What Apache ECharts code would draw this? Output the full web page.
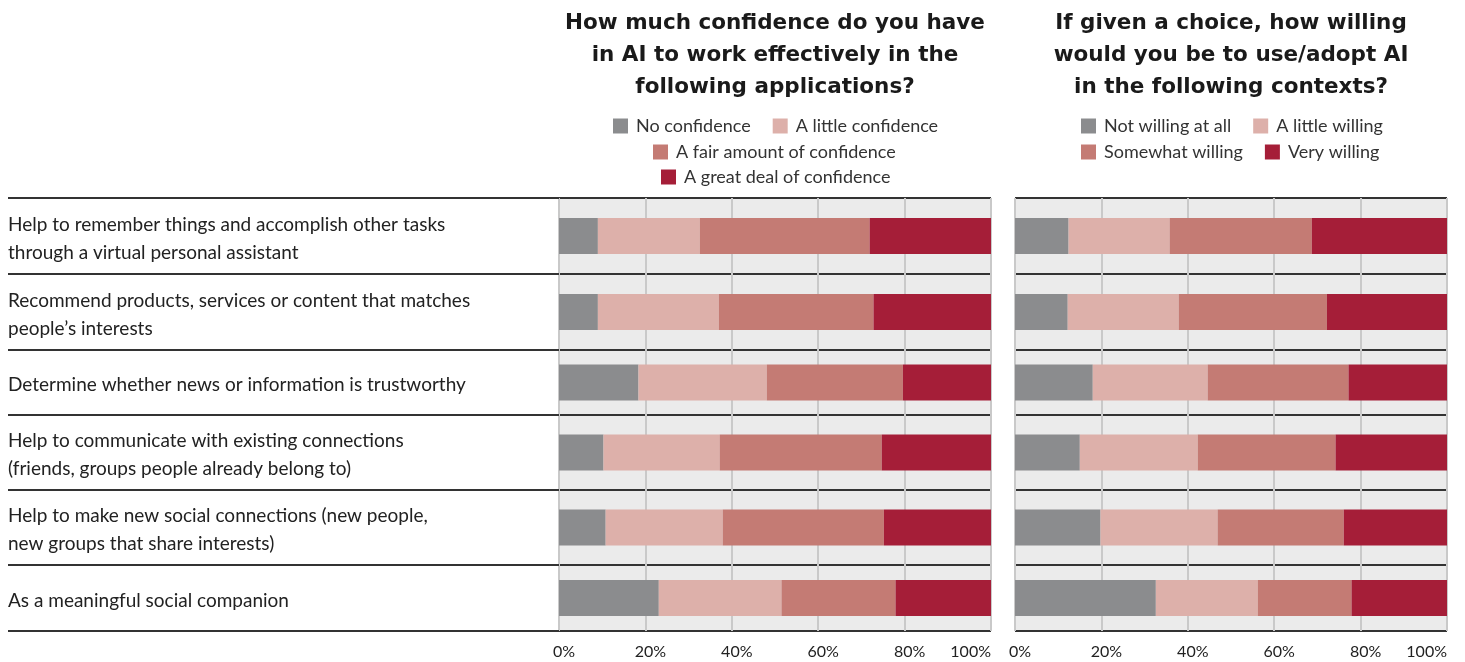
<!DOCTYPE html>
<html>
<head>
<meta charset="utf-8">
<script src="https://cdn.jsdelivr.net/npm/echarts@6/dist/echarts.min.js"></script>
<style>
html,body{margin:0;padding:0;background:#fff;}
#main{width:1465px;height:662px;}
</style>
</head>
<body>
<div id="main"></div>
<script>
// ---- data ----
const categories = [
  "Help to remember things and accomplish other tasks\nthrough a virtual personal assistant",
  "Recommend products, services or content that matches\npeople’s interests",
  "Determine whether news or information is trustworthy",
  "Help to communicate with existing connections\n(friends, groups people already belong to)",
  "Help to make new social connections (new people,\nnew groups that share interests)",
  "As a meaningful social companion"
];
const confidenceNames = ["No confidence", "A little confidence", "A fair amount of confidence", "A great deal of confidence"];
const noConfidence     = [9.0, 9.0, 18.4, 10.3, 10.8, 23.1];
const littleConfidence = [23.6, 28.0, 29.7, 26.9, 27.1, 28.4];
const fairConfidence   = [39.3, 35.8, 31.5, 37.5, 37.3, 26.4];
const greatConfidence  = [28.1, 27.2, 20.4, 25.3, 24.8, 22.1];

const willingNames = ["Not willing at all", "A little willing", "Somewhat willing", "Very willing"];
const notWilling       = [12.4, 12.2, 18.0, 15.0, 19.8, 32.6];
const littleWilling    = [23.4, 25.7, 26.6, 27.3, 27.1, 23.6];
const somewhatWilling  = [32.9, 34.3, 32.6, 31.9, 29.2, 21.7];
const veryWilling      = [31.3, 27.8, 22.8, 25.8, 23.9, 22.1];

const tickLabels = ["0%", "20%", "40%", "60%", "80%", "100%"];

const titleLeft = "How much confidence do you have\nin AI to work effectively in the\nfollowing applications?";
const titleRight = "If given a choice, how willing\nwould you be to use/adopt AI\nin the following contexts?";

// ---- layout ----
const colors = ["#8b8c8e", "#ddb0aa", "#c47b74", "#a51e38"];
const rowEdges = [198, 274, 350, 415, 490, 565, 631];
const panels = [
  { left: 559, width: 432, names: confidenceNames, values: [noConfidence, littleConfidence, fairConfidence, greatConfidence], labels: true },
  { left: 1015, width: 432, names: willingNames, values: [notWilling, littleWilling, somewhatWilling, veryWilling], labels: false }
];
const FONT = "Lato";
const TITLE_FONT = "DejaVu Sans";

const grid = [], xAxis = [], yAxis = [], series = [];
let gi = 0;
panels.forEach((p, pi) => {
  for (let r = 0; r < categories.length; r++) {
    const top = rowEdges[r], h = rowEdges[r + 1] - rowEdges[r];
    const isLast = r === categories.length - 1;
    grid.push({ left: p.left, top: top, width: p.width, height: h, show: true, backgroundColor: "#ebebeb", borderWidth: 0, containLabel: false });
    xAxis.push({
      gridIndex: gi, type: "value", min: 0, max: 100, interval: 20,
      axisLine: { show: false }, axisTick: { show: false },
      splitLine: { show: true, lineStyle: { color: "#c9c9c9", width: 2 } },
      axisLabel: {
        show: isLast, fontFamily: FONT, fontSize: 16, color: "#222", margin: 13,
        padding: [0, 0, 0, 10], alignMaxLabel: "right",
        formatter: (v) => tickLabels[Math.round(v / 20)]
      }
    });
    yAxis.push({
      gridIndex: gi, type: "category", data: [categories[r]],
      axisLine: { show: false },
      axisTick: p.labels ? { show: true, length: p.left - 8, lineStyle: { color: "#333", width: 2 } } : { show: false },
      splitLine: { show: true, lineStyle: { color: "#333", width: 2 } },
      axisLabel: p.labels ? {
        show: true, align: "left", margin: p.left - 8, color: "#222",
        formatter: (v) => "{s| }\n" + v.split("\n").map((l) => "{t|" + l + "}").join("\n"),
        rich: {
          s: { fontSize: 2, lineHeight: 5 },
          t: { fontFamily: FONT, fontSize: 19, lineHeight: 28, color: "#222", align: "left" }
        }
      } : { show: false }
    });
    p.names.forEach((nm, k) => {
      series.push({
        type: "bar", name: nm, stack: "s" + gi, xAxisIndex: gi, yAxisIndex: gi,
        barWidth: 36, itemStyle: { color: colors[k] },
        data: [p.values[k][r]], silent: true
      });
    });
    gi++;
  }
});

const legendBase = { orient: "horizontal", icon: "rect", itemWidth: 15, itemHeight: 15, itemGap: 22, padding: 0,
  textStyle: { fontFamily: FONT, fontSize: 18, color: "#333", padding: [0, 0, 0, 3] }, selectedMode: false };

const titleStyle = { fontFamily: TITLE_FONT, fontWeight: "bold", fontSize: 21.5, lineHeight: 32, color: "#1a1a1a" };

const option = {
  animation: false,
  backgroundColor: "#fff",
  color: colors,
  title: [
    { text: titleLeft, left: 775, top: 7, padding: 0, textAlign: "center", textStyle: titleStyle },
    { text: titleRight, left: 1231, top: 7, padding: 0, textAlign: "center", textStyle: titleStyle }
  ],
  legend: [
    Object.assign({}, legendBase, { left: 613, top: 117, data: [confidenceNames[0], confidenceNames[1]] }),
    Object.assign({}, legendBase, { left: 653, top: 143, data: [confidenceNames[2]] }),
    Object.assign({}, legendBase, { left: 661, top: 168, data: [confidenceNames[3]] }),
    Object.assign({}, legendBase, { left: 1081, top: 117, data: [willingNames[0], willingNames[1]] }),
    Object.assign({}, legendBase, { left: 1081, top: 143, data: [willingNames[2], willingNames[3]] })
  ],
  grid, xAxis, yAxis, series
};

const chart = echarts.init(document.getElementById("main"), null, { renderer: "canvas" });
chart.setOption(option);
</script>
</body>
</html>
